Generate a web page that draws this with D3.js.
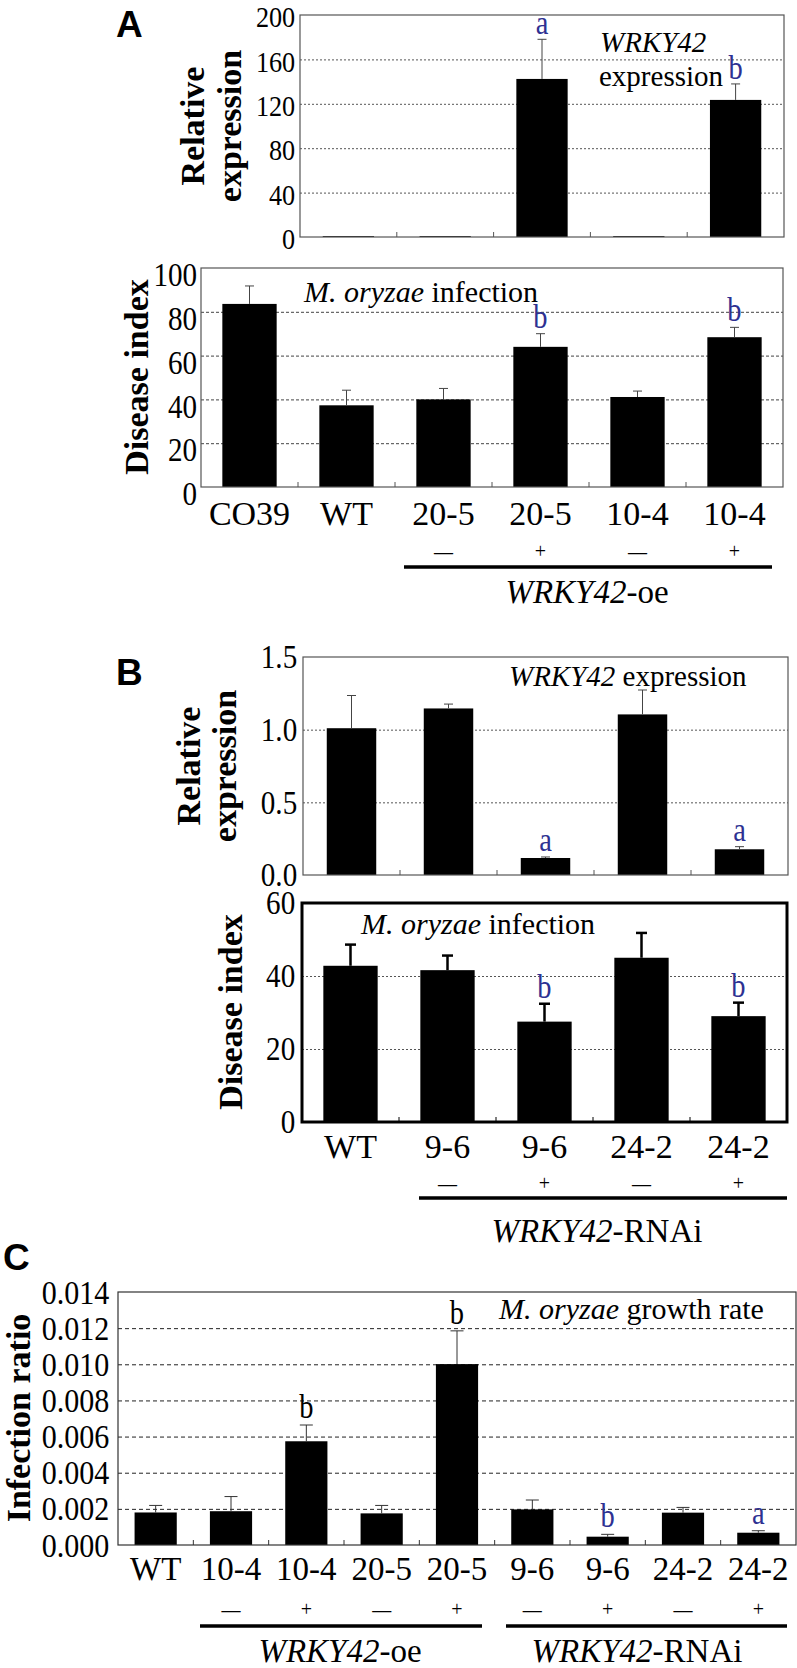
<!DOCTYPE html>
<html><head><meta charset="utf-8">
<script src="https://cdn.jsdelivr.net/npm/d3@7"></script>
<style>
body{margin:0;background:#fff;}
svg{display:block;}
</style></head>
<body>
<svg id="fig" width="797" height="1668"></svg>
<script>
// ---------- data ----------
// Panel A
const aCats = ["CO39","WT","20-5","20-5","10-4","10-4"];
const aSigns = ["","","\u2014","+","\u2014","+"];
const aExprValues = [0.8, 0.8, 142.4, 0.8, 123.5];   // bars for aCats[1..5]
const aExprErrors = [0, 0, 35.7, 0, 14.4];
const aExprLetters = ["","","a","","b"];
const aExprTicks = [0,40,80,120,160,200];
const aExprGrid = [40,80,120,160];
const aDisValues = [83.6, 37.3, 40.0, 64.0, 41.1, 68.4];
const aDisErrors = [8.2, 6.9, 5.0, 6.0, 2.7, 4.5];
const aDisLetters = ["","","","b","","b"];
const aDisTicks = [0,20,40,60,80,100];
const aDisGrid = [20,40,60,80];
// Panel B
const bCats = ["WT","9-6","9-6","24-2","24-2"];
const bSigns = ["","\u2014","+","\u2014","+"];
const bExprValues = [1.01, 1.146, 0.117, 1.105, 0.177];
const bExprErrors = [0.225, 0.03, 0.007, 0.168, 0.018];
const bExprLetters = ["","","a","","a"];
const bExprTicks = [0,0.5,1.0,1.5];
const bExprGrid = [0.5,1.0];
const bDisValues = [42.8, 41.6, 27.5, 45.0, 29.0];
const bDisErrors = [5.8, 4.0, 4.9, 6.8, 3.7];
const bDisLetters = ["","","b","","b"];
const bDisTicks = [0,20,40,60];
const bDisGrid = [20,40];
// Panel C
const cCats = ["WT","10-4","10-4","20-5","20-5","9-6","9-6","24-2","24-2"];
const cSigns = ["","\u2014","+","\u2014","+","\u2014","+","\u2014","+"];
const cValues = [0.00180, 0.00187, 0.00574, 0.00175, 0.01001, 0.00197, 0.00046, 0.00179, 0.00068];
const cErrors = [0.00039, 0.00081, 0.00090, 0.00044, 0.00184, 0.00052, 0.00013, 0.00029, 0.00011];
const cLetters = ["","","b","","b","","b","","a"];
const cLetterBlue = [false,false,false,false,false,false,true,false,true];
const cTicks = [0,0.002,0.004,0.006,0.008,0.010,0.012,0.014];
const cGrid = [0.002,0.004,0.006,0.008,0.010,0.012];

// ---------- drawing ----------
const svg = d3.select("#fig");
const SERIF = "'Liberation Serif','Times New Roman',serif";
const SANS = "'Liberation Sans',Arial,sans-serif";
const BLUE = "#2e3192";

function txt(x, y, s, o = {}) {
  const t = svg.append("text").attr("x", x).attr("y", y)
    .attr("font-family", o.family || SERIF)
    .attr("font-size", o.size || 30)
    .attr("font-weight", o.weight || "normal")
    .attr("font-style", o.style || "normal")
    .attr("fill", o.fill || "#000")
    .attr("text-anchor", o.anchor || "start");
  if (o.rotate) t.attr("transform", `rotate(${o.rotate},${x},${y})`);
  if (o.sx) t.attr("transform", `translate(${x},${y}) scale(${o.sx},${o.sy||1}) translate(${-x},${-y})`);
  if (o.baseline) t.attr("dominant-baseline", o.baseline);
  if (Array.isArray(s)) {
    s.forEach(p => t.append("tspan").attr("font-style", p.i ? "italic" : "normal").text(p.t));
  } else t.text(s);
  return t;
}

function barChart(o) {
  const g = svg.append("g");
  const n = o.values.length;
  const x = d3.scaleBand().domain(d3.range(n)).range([o.left, o.right])
    .paddingInner(o.pad).paddingOuter(o.pad / 2);
  const y = d3.scaleLinear().domain(d3.extent(o.ticks)).range([o.bottom, o.top]);
  const W = o.right - o.left;
  // grid lines
  const grid = g.append("g").attr("transform", `translate(${o.left},0)`)
    .call(d3.axisLeft(y).tickValues(o.grid).tickSize(-W).tickFormat(""));
  grid.select(".domain").remove();
  grid.selectAll(".tick line").attr("stroke", o.gridColor).attr("stroke-width", 1)
    .attr("stroke-dasharray", o.gridDash);
  // bars
  g.selectAll("rect.bar").data(o.values).join("rect").attr("class", "bar")
    .attr("x", (d, i) => x(i)).attr("width", x.bandwidth())
    .attr("y", d => y(d)).attr("height", d => y(0) - y(d)).attr("fill", "#000");
  // error bars (upper only)
  const eg = g.append("g").attr("stroke", o.errColor).attr("stroke-width", o.errW);
  o.values.forEach((v, i) => {
    if (!o.errors[i]) return;
    const cx = x(i) + x.bandwidth() / 2, yt = y(v + o.errors[i]);
    eg.append("line").attr("x1", cx).attr("x2", cx).attr("y1", y(v)).attr("y2", yt);
    eg.append("line").attr("x1", cx - o.capW / 2).attr("x2", cx + o.capW / 2).attr("y1", yt).attr("y2", yt);
  });
  // category separator ticks
  d3.range(1, n).forEach(i => {
    const tx = x(i) - x.step() * o.pad / 2;
    g.append("line").attr("x1", tx).attr("x2", tx).attr("y1", y(0)).attr("y2", y(0) - 5)
      .attr("stroke", o.frameColor).attr("stroke-width", 1);
  });
  // frame
  g.append("rect").attr("x", o.left).attr("y", o.top).attr("width", W).attr("height", o.bottom - o.top)
    .attr("fill", "none").attr("stroke", o.frameColor).attr("stroke-width", o.frameW);
  // y tick labels
  const ya = g.append("g").attr("transform", `translate(${o.left},${o.labelDy || 0})`)
    .call(d3.axisLeft(y).tickValues(o.ticks).tickSize(0).tickPadding(o.tickPad).tickFormat(o.fmt));
  ya.select(".domain").remove();
  ya.attr("font-family", null).attr("font-size", null);
  ya.selectAll("text").attr("font-family", SERIF).attr("font-size", o.tickSize).attr("fill", "#000")
    .attr("transform", "scale(0.97,1.12)");
  // significance letters
  o.letters.forEach((L, i) => {
    if (!L) return;
    const blue = o.letterBlue ? o.letterBlue[i] : true;
    const lx = x(i) + x.bandwidth() / 2, ly = y(o.values[i] + o.errors[i]) - o.letterGap;
    g.append("text").attr("x", lx).attr("y", ly)
      .attr("transform", `translate(${lx},${ly}) scale(0.95,1.15) translate(${-lx},${-ly})`)
      .attr("text-anchor", "middle").attr("font-family", SERIF).attr("font-size", o.letterSize || 30)
      .attr("fill", blue ? BLUE : "#000").text(L);
  });
  return { x, y };
}

function catLabels(sc, cats, yBase, size) {
  cats.forEach((c, i) => txt(sc.x(i) + sc.x.bandwidth() / 2, yBase, c, { size, anchor: "middle" }));
}
function signRow(sc, signs, yc) {
  signs.forEach((s, i) => {
    if (!s) return;
    const minus = s !== "+";
    txt(sc.x(i) + sc.x.bandwidth() / 2, yc, s,
      { size: minus ? 19 : 20, weight: minus ? "bold" : "normal", anchor: "middle", baseline: "central" });
  });
}
function underline(x1, x2, y) {
  svg.append("line").attr("x1", x1).attr("x2", x2).attr("y1", y).attr("y2", y)
    .attr("stroke", "#000").attr("stroke-width", 3.5);
}

// ===== Panel A =====
txt(116, 37, "A", { family: SANS, weight: "bold", size: 37 });
const aTop = barChart({
  left: 300, right: 784, top: 15, bottom: 237, pad: 0.47,
  values: aExprValues, errors: aExprErrors, letters: aExprLetters,
  ticks: aExprTicks, grid: aExprGrid, fmt: d3.format("d"),
  gridColor: "#555", gridDash: "2,2", frameColor: "#555", frameW: 1.2,
  errColor: "#444", errW: 1, capW: 9, tickPad: 5, tickSize: 27, letterGap: 5, labelDy: 2
});
txt(204, 126, "Relative", { weight: "bold", size: 34, anchor: "middle", rotate: -90 });
txt(241, 126, "expression", { weight: "bold", size: 34, anchor: "middle", rotate: -90 });
txt(600, 52, [{ t: "WRKY42", i: true }], { size: 29 });
txt(599, 86, "expression", { size: 29 });

const aBot = barChart({
  left: 201, right: 783, top: 268, bottom: 487, pad: 0.44,
  values: aDisValues, errors: aDisErrors, letters: aDisLetters,
  ticks: aDisTicks, grid: aDisGrid, fmt: d3.format("d"),
  gridColor: "#444", gridDash: "3,2", frameColor: "#555", frameW: 1.2,
  errColor: "#444", errW: 1, capW: 9, tickPad: 4, tickSize: 30, letterGap: 6, labelDy: 7
});
txt(148, 377, "Disease index", { weight: "bold", size: 34, anchor: "middle", rotate: -90 });
txt(304, 302, [{ t: "M. oryzae", i: true }, { t: " infection" }], { size: 30 });
catLabels(aBot, aCats, 525, 34);
signRow(aBot, aSigns, 551);
underline(404, 772, 567);
txt(587, 603, [{ t: "WRKY42", i: true }, { t: "-oe" }], { size: 33, anchor: "middle" });

// ===== Panel B =====
txt(116, 685, "B", { family: SANS, weight: "bold", size: 37 });
const bTop = barChart({
  left: 303, right: 788, top: 657, bottom: 875, pad: 0.49,
  values: bExprValues, errors: bExprErrors, letters: bExprLetters,
  ticks: bExprTicks, grid: bExprGrid, fmt: d3.format(".1f"),
  gridColor: "#555", gridDash: "2,2", frameColor: "#555", frameW: 1.2,
  errColor: "#444", errW: 1, capW: 9, tickPad: 6, tickSize: 30, letterGap: 6
});
txt(200, 766, "Relative", { weight: "bold", size: 34, anchor: "middle", rotate: -90 });
txt(236, 766, "expression", { weight: "bold", size: 34, anchor: "middle", rotate: -90 });
txt(509, 686, [{ t: "WRKY42", i: true }, { t: " expression" }], { size: 29 });

const bBot = barChart({
  left: 302, right: 787, top: 903, bottom: 1122, pad: 0.44,
  values: bDisValues, errors: bDisErrors, letters: bDisLetters,
  ticks: bDisTicks, grid: bDisGrid, fmt: d3.format("d"),
  gridColor: "#555", gridDash: "2,2", frameColor: "#000", frameW: 3,
  errColor: "#000", errW: 2.5, capW: 11, tickPad: 7, tickSize: 30, letterGap: 6
});
txt(242, 1012, "Disease index", { weight: "bold", size: 34, anchor: "middle", rotate: -90 });
txt(361, 934, [{ t: "M. oryzae", i: true }, { t: " infection" }], { size: 30 });
catLabels(bBot, bCats, 1158, 34);
signRow(bBot, bSigns, 1183);
underline(419, 787, 1198);
txt(597, 1242, [{ t: "WRKY42", i: true }, { t: "-RNAi" }], { size: 33, anchor: "middle" });

// ===== Panel C =====
txt(3, 1270, "C", { family: SANS, weight: "bold", size: 37 });
const cCh = barChart({
  left: 118, right: 796, top: 1292, bottom: 1545, pad: 0.44,
  values: cValues, errors: cErrors, letters: cLetters, letterBlue: cLetterBlue,
  ticks: cTicks, grid: cGrid, fmt: d3.format(".3f"),
  gridColor: "#222", gridDash: "4,3", frameColor: "#333", frameW: 1.2,
  errColor: "#333", errW: 1, capW: 13, tickPad: 9, tickSize: 31, letterGap: 7
});
txt(30, 1418, "Infection ratio", { weight: "bold", size: 34, anchor: "middle", rotate: -90 });
txt(499, 1319, [{ t: "M. oryzae", i: true }, { t: " growth rate" }], { size: 30 });
catLabels(cCh, cCats, 1580, 33);
signRow(cCh, cSigns, 1609);
underline(200, 482, 1626);
underline(506, 787, 1626);
txt(340, 1662, [{ t: "WRKY42", i: true }, { t: "-oe" }], { size: 33, anchor: "middle" });
txt(637, 1662, [{ t: "WRKY42", i: true }, { t: "-RNAi" }], { size: 33, anchor: "middle" });
</script>
</body></html>
